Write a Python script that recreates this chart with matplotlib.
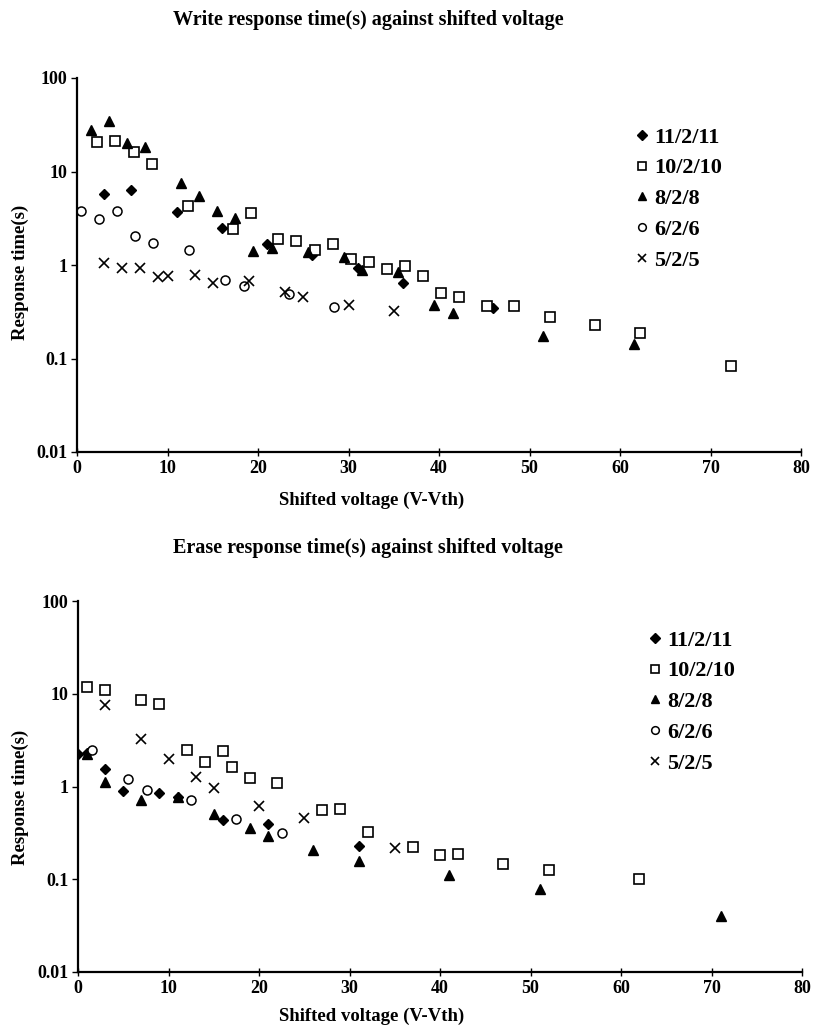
import numpy as np
import matplotlib
matplotlib.use('Agg')
import matplotlib.pyplot as plt
from matplotlib.ticker import FixedLocator, FixedFormatter

# write response (top chart)
w11_x = [3, 6, 11, 16, 21, 26, 31, 36, 46]
w11_y = [5.7, 6.3, 3.7, 2.5, 1.68, 1.28, 0.94, 0.64, 0.35]
w10_x = [2.25, 4.25, 6.25, 8.25, 12.25, 17.25, 19.25, 22.25, 24.25, 26.25, 28.25, 30.25,
         32.25, 34.25, 36.25, 38.25, 40.25, 42.25, 45.25, 48.25, 52.25, 57.25, 62.25, 72.25]
w10_y = [20.5, 21.4, 16, 12, 4.3, 2.4, 3.6, 1.88, 1.79, 1.45, 1.68, 1.15,
         1.07, 0.9, 0.98, 0.76, 0.5, 0.46, 0.36, 0.36, 0.275, 0.226, 0.186, 0.083]
w8_x = [1.5, 3.5, 5.5, 7.5, 11.5, 13.5, 15.5, 17.5, 19.5, 21.5, 25.5, 29.5, 31.5, 35.5,
        39.5, 41.5, 51.5, 61.5]
w8_y = [27.8, 35, 20, 18.4, 7.5, 5.5, 3.8, 3.2, 1.41, 1.53, 1.39, 1.21, 0.88, 0.85,
        0.37, 0.31, 0.174, 0.142]
w6_x = [0.4, 2.4, 4.4, 6.4, 8.4, 12.4, 16.4, 18.4, 23.4, 28.4]
w6_y = [3.78, 3.1, 3.78, 2.06, 1.73, 1.45, 0.69, 0.6, 0.49, 0.355]
w5_x = [3, 5, 7, 9, 10, 13, 15, 19, 23, 25, 30, 35]
w5_y = [1.06, 0.92, 0.94, 0.74, 0.77, 0.78, 0.64, 0.68, 0.52, 0.46, 0.37, 0.32]

# erase response (bottom chart)
e11_x = [0, 1, 3, 5, 9, 11, 16, 21, 31]
e11_y = [2.25, 2.3, 1.55, 0.89, 0.86, 0.78, 0.44, 0.39, 0.227]
e10_x = [1, 3, 7, 9, 12, 14, 16, 17, 19, 22, 27, 29, 32, 37, 40, 42, 47, 52, 62]
e10_y = [11.9, 10.95, 8.55, 7.74, 2.48, 1.86, 2.44, 1.64, 1.24, 1.09, 0.56, 0.57,
         0.323, 0.223, 0.184, 0.186, 0.147, 0.125, 0.10]
e8_x = [1, 3, 7, 11, 15, 19, 21, 26, 31, 41, 51, 71]
e8_y = [2.25, 1.11, 0.71, 0.78, 0.51, 0.36, 0.29, 0.208, 0.157, 0.11, 0.079, 0.04]
e6_x = [1.6, 5.5, 7.6, 12.5, 17.5, 22.5]
e6_y = [2.5, 1.19, 0.91, 0.71, 0.445, 0.318]
e5_x = [3, 7, 10, 13, 15, 20, 25, 35]
e5_y = [7.55, 3.25, 1.98, 1.28, 0.97, 0.62, 0.455, 0.215]

labels = ['11/2/11', '10/2/10', '8/2/8', '6/2/6', '5/2/5']
yticks = [0.01, 0.1, 1, 10, 100]
ytick_labels = ['0.01', '0.1', '1', '10', '100']
xticks = [0, 10, 20, 30, 40, 50, 60, 70, 80]

plt.rcParams['font.family'] = 'Liberation Serif'
plt.rcParams['font.weight'] = 'bold'

W, H = 814, 1028
fig = plt.figure(figsize=(W / 100, H / 100), dpi=100)


def fx(px):
    return px / W


def fy(py):
    return 1 - py / H


def draw(ax, series, leg_anchor):
    styles = [dict(marker='D', ms=5.5, mfc='black', mec='black'),
              dict(marker='s', ms=6.5, mfc='white', mec='black', mew=1.2),
              dict(marker='^', ms=7.5, mfc='black', mec='black'),
              dict(marker='o', ms=6.5, mfc='white', mec='black', mew=1.1),
              dict(marker='x', ms=7, mec='black', mew=1.2)]
    for (x, y), st, lab in zip(series, styles, labels):
        ax.plot(x, y, linestyle='none', label=lab, **st)
    ax.set_yscale('log')
    ax.set_ylim(0.01, 100)
    ax.set_xlim(0, 80)
    ax.yaxis.set_major_locator(FixedLocator(yticks))
    ax.yaxis.set_major_formatter(FixedFormatter(ytick_labels))
    ax.yaxis.set_minor_locator(FixedLocator([]))
    ax.set_xticks(xticks)
    for s in ['top', 'right']:
        ax.spines[s].set_visible(False)
    for s in ['left', 'bottom']:
        ax.spines[s].set_linewidth(1.6)
    ax.tick_params(axis='y', direction='out', length=4, width=1, labelsize=13, pad=3)
    ax.tick_params(axis='x', direction='inout', length=6, width=1, labelsize=13, pad=3)
    for t in ax.get_xticklabels() + ax.get_yticklabels():
        t.set_fontweight('bold')
    leg = ax.legend(loc='upper left', bbox_to_anchor=leg_anchor, bbox_transform=fig.transFigure,
                    frameon=False, prop={'size': 16, 'weight': 'bold'},
                    handlelength=0.6, handletextpad=0.25, labelspacing=0.46,
                    borderpad=0, markerscale=0.85)
    return leg


ax1 = fig.add_axes([fx(77), fy(452), fx(801) - fx(77), fy(78) - fy(452)])
draw(ax1, [(w11_x, w11_y), (w10_x, w10_y), (w8_x, w8_y), (w6_x, w6_y), (w5_x, w5_y)],
     (fx(624), fy(116)))

ax2 = fig.add_axes([fx(78), fy(972), fx(802) - fx(78), fy(601) - fy(972)])
draw(ax2, [(e11_x, e11_y), (e10_x, e10_y), (e8_x, e8_y), (e6_x, e6_y), (e5_x, e5_y)],
     (fx(637), fy(619)))

fig.text(fx(368), fy(25), 'Write response time(s) against shifted voltage',
         ha='center', va='baseline', fontsize=14.5, fontweight='bold')
fig.text(fx(368), fy(553), 'Erase response time(s) against shifted voltage',
         ha='center', va='baseline', fontsize=14.5, fontweight='bold')
fig.text(fx(372), fy(500), 'Shifted voltage (V-Vth)', ha='center', va='center',
         fontsize=13.5, fontweight='bold')
fig.text(fx(372), fy(1016), 'Shifted voltage (V-Vth)', ha='center', va='center',
         fontsize=13.5, fontweight='bold')
fig.text(fx(20), fy(272), 'Response time(s)', ha='center', va='center', rotation=90,
         fontsize=13.5, fontweight='bold')
fig.text(fx(20), fy(797), 'Response time(s)', ha='center', va='center', rotation=90,
         fontsize=13.5, fontweight='bold')

fig.savefig('out.png', dpi=100)
